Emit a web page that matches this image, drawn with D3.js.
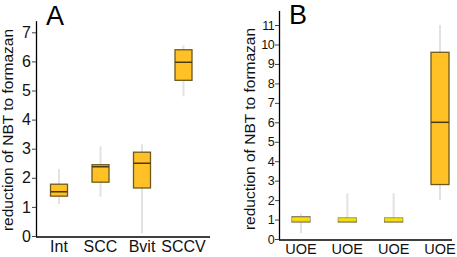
<!DOCTYPE html>
<html>
<head>
<meta charset="utf-8">
<script src="https://cdn.jsdelivr.net/npm/d3@7"></script>
<style>
  body { margin: 0; background: #fff; }
  svg { display: block; font-family: "Liberation Sans", Arial, sans-serif; }
</style>
</head>
<body>
<div id="chart"></div>
<script>
"use strict";

// Panel A data
const catsA = ["Int", "SCC", "Bvit", "SCCV"];
const minA = [1.1, 1.35, 0.1, 4.8];
const q1A = [1.37, 1.85, 1.65, 5.35];
const medA = [1.52, 2.38, 2.5, 5.97];
const q3A = [1.78, 2.45, 2.88, 6.4];
const maxA = [2.3, 3.08, 3.15, 6.55];
const ticksA = [0, 1, 2, 3, 4, 5, 6, 7];

// Panel B data
const catsB = ["UOE", "UOE ", "UOE  ", "UOE   "];
const minB = [0.3, 0.9, 0.9, 2.0];
const q1B = [0.87, 0.87, 0.87, 2.8];
const medB = [1.02, 1.0, 1.0, 6.0];
const q3B = [1.15, 1.08, 1.08, 9.6];
const maxB = [1.3, 2.35, 2.35, 11.0];
const ticksB = [0, 1, 2, 3, 4, 5, 6, 7, 8, 9, 10, 11];

const width = 457, height = 257;
const svg = d3.select("#chart").append("svg")
	.attr("width", width)
	.attr("height", height);

const boxFill = "#ffc125";
const boxStroke = "#6e5a1c";
const whiskerColor = "#e2e2e2";

function drawPanel(opt) {
	const g = svg.append("g");
	const y = d3.scaleLinear().domain([0, opt.yTop]).range([opt.y0, opt.yEnd]);
	const x = d3.scalePoint().domain(opt.cats).range(opt.xRange);

	// y axis
	const yAxis = g.append("g")
		.attr("transform", `translate(${opt.axisX},0)`)
		.call(d3.axisLeft(y).tickValues(opt.ticks).tickSize(4).tickSizeOuter(0).tickPadding(1));
	yAxis.select(".domain").attr("stroke", "#000").attr("stroke-width", 1.3);
	yAxis.selectAll(".tick line").attr("stroke", "#444");
	yAxis.selectAll("text")
		.attr("fill", "#111")
		.style("font-size", opt.tickFont + "px")
		.attr("letter-spacing", opt.tickSpacing);

	// x axis line + labels
	g.append("line")
		.attr("x1", opt.axisX).attr("x2", opt.xEnd)
		.attr("y1", y(0) + 1).attr("y2", y(0) + 1)
		.attr("stroke", "#000").attr("stroke-width", 1.3);
	g.selectAll(".xlab")
		.data(opt.cats)
		.enter().append("text")
		.attr("x", d => x(d))
		.attr("y", opt.labelY)
		.attr("text-anchor", "middle")
		.style("font-size", opt.labelFont + "px")
		.attr("fill", "#111")
		.text(d => d.trim());

	// whiskers
	g.selectAll(".whisker")
		.data(opt.cats)
		.enter().append("line")
		.attr("x1", d => x(d)).attr("x2", d => x(d))
		.attr("y1", (d, i) => y(opt.max[i]))
		.attr("y2", (d, i) => y(opt.min[i]))
		.attr("stroke", whiskerColor)
		.attr("stroke-width", 2);

	// boxes
	g.selectAll(".box")
		.data(opt.cats)
		.enter().append("rect")
		.attr("x", d => x(d) - opt.boxW / 2)
		.attr("width", opt.boxW)
		.attr("y", (d, i) => y(opt.q3[i]))
		.attr("height", (d, i) => y(opt.q1[i]) - y(opt.q3[i]))
		.attr("fill", boxFill)
		.attr("stroke", (d, i) => opt.smallBox && opt.smallBox[i] ? "#8a8468" : boxStroke)
		.attr("stroke-width", 1.3);

	// medians
	g.selectAll(".median")
		.data(opt.cats)
		.enter().append("line")
		.attr("x1", d => x(d) - opt.boxW / 2)
		.attr("x2", d => x(d) + opt.boxW / 2)
		.attr("y1", (d, i) => y(opt.med[i]))
		.attr("y2", (d, i) => y(opt.med[i]))
		.attr("stroke", (d, i) => opt.smallBox && opt.smallBox[i] ? "#f2e400" : "#4a3a10")
		.attr("stroke-width", (d, i) => opt.smallBox && opt.smallBox[i] ? 2.5 : 1.5);

	// title
	g.append("text")
		.attr("x", opt.titleX)
		.attr("y", opt.titleY)
		.style("font-size", "27px")
		.attr("fill", "#000")
		.text(opt.title);

	// y label
	g.append("text")
		.attr("transform", `translate(${opt.ylabX},${opt.ylabY}) rotate(-90)`)
		.attr("text-anchor", "middle")
		.style("font-size", "15.5px")
		.attr("fill", "#111")
		.text("reduction of NBT to formazan");
}

drawPanel({
	cats: catsA, min: minA, q1: q1A, med: medA, q3: q3A, max: maxA,
	ticks: ticksA, yTop: 7.4, y0: 236, yEnd: 236 - 7.4 * 29.1,
	xRange: [59, 183.5], axisX: 36, xEnd: 210,
	boxW: 17, tickFont: 16, tickSpacing: 0, labelFont: 16, labelY: 252,
	title: "A", titleX: 46, titleY: 25, ylabX: 13, ylabY: 130
});

drawPanel({
	cats: catsB, min: minB, q1: q1B, med: medB, q3: q3B, max: maxB,
	ticks: ticksB, yTop: 11.75, y0: 239, yEnd: 239 - 11.75 * 19.45,
	xRange: [301, 440], axisX: 279, xEnd: 452,
	boxW: 18, tickFont: 12.5, tickSpacing: -0.6, labelFont: 14.5, labelY: 254,
	smallBox: [true, true, true, false],
	title: "B", titleX: 289, titleY: 24, ylabX: 255, ylabY: 129
});
</script>
</body>
</html>
